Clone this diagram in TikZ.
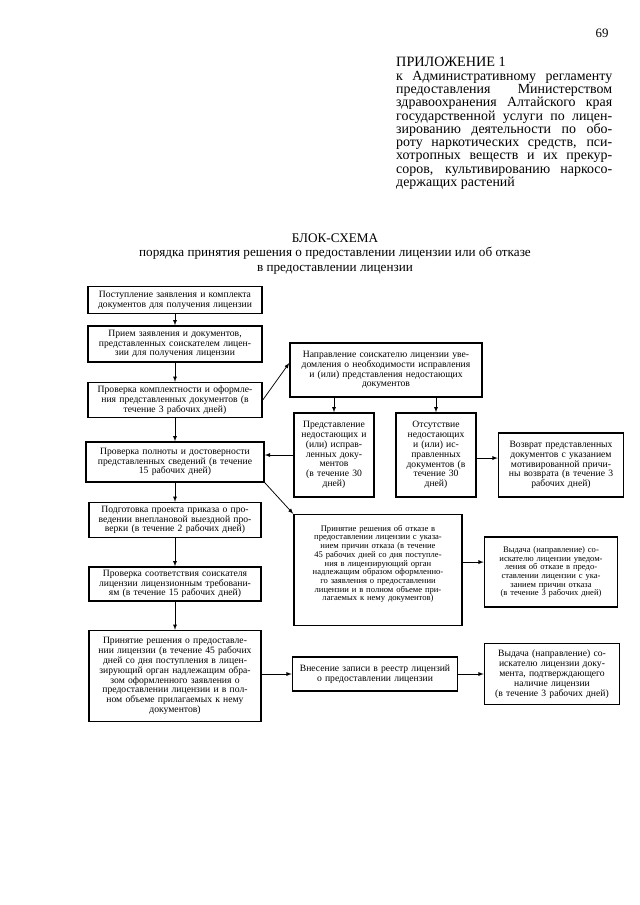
\documentclass[tikz,border=0pt]{standalone}
\usepackage{fontspec}
\setmainfont{Liberation Serif}
\usetikzlibrary{arrows,calc}
\newlength{\px}
\setlength{\px}{0.328mm}
\newcommand{\jline}[1]{\makebox[216\px][s]{#1}\\}
\tikzstyle{bx}=[draw=black,line width=1.3pt,align=center,inner xsep=1pt,inner ysep=1pt,
  font=\fontsize{9}{9.2}\selectfont]
\tikzstyle{sm}=[font=\fontsize{8}{8.1}\selectfont]
\tikzstyle{ar}=[-latex,line width=0.7pt]

\begin{document}
\begin{tikzpicture}[x=0.328mm,y=-0.328mm]
    \useasboundingbox (0,0) rectangle (640,905);
    % header
    \node [font=\fontsize{12}{12}\selectfont] (pg) at (602,33) {69};
    \node [anchor=west,inner sep=0,font=\fontsize{13.3}{13.3}\selectfont] (app) at (396,62)
      {ПРИЛОЖЕНИЕ 1};
    \node [anchor=north west,inner sep=0,text width=216\px,align=justify,
      font=\fontsize{13}{12.35}\selectfont] (reg) at (396,71) {%
      \jline{к Административному регламенту}%
      \jline{предоставления Министерством}%
      \jline{здравоохранения Алтайского края}%
      \jline{государственной услуги по лицен-}%
      \jline{зированию деятельности по обо-}%
      \jline{роту наркотических средств, пси-}%
      \jline{хотропных веществ и их прекур-}%
      \jline{соров, культивированию наркосо-}%
      держащих растений};
    \node [align=center,font=\fontsize{12.3}{13.5}\selectfont] (ttl) at (335,254)
      {БЛОК-СХЕМА\\порядка принятия решения о предоставлении лицензии или об отказе\\в предоставлении лицензии};
    % main column
    \node [style=bx,text width=172\px,minimum height=27\px] (1) at (175,300)
      {Поступление заявления и комплекта\\документов для получения лицензии};
    \node [style=bx,text width=172\px,minimum height=36\px] (2) at (175,344)
      {Прием заявления и документов,\\представленных соискателем лицен-\\зии для получения лицензии};
    \node [style=bx,text width=172\px,minimum height=35\px] (3) at (175,400)
      {Проверка комплектности и оформле-\\ния представленных документов (в\\течение 3 рабочих дней)};
    \node [style=bx,text width=176\px,minimum height=40\px] (4) at (175,462)
      {Проверка полноты и достоверности\\представленных сведений (в течение\\15 рабочих дней)};
    \node [style=bx,text width=170\px,minimum height=35\px] (5) at (175,520)
      {Подготовка проекта приказа о про-\\ведении внеплановой выездной про-\\верки (в течение 2 рабочих дней)};
    \node [style=bx,text width=170\px,minimum height=34\px] (6) at (175,584)
      {Проверка соответствия соискателя\\лицензии лицензионным требовани-\\ям (в течение 15 рабочих дней)};
    \node [style=bx,text width=170\px,minimum height=91\px] (7) at (175,676)
      {Принятие решения о предоставле-\\нии лицензии (в течение 45 рабочих\\дней со дня поступления в лицен-\\зирующий орган надлежащим обра-\\зом оформленного заявления о\\предоставлении лицензии и в пол-\\ном объеме прилагаемых к нему\\документов)};
    % right part
    \node [style=bx,text width=190\px,minimum height=54\px] (8) at (386,370)
      {Направление соискателю лицензии уве-\\домления о необходимости исправления\\и (или) представления недостающих\\документов};
    \node [style=bx,text width=78\px,minimum height=84\px] (9) at (334,455)
      {Представление\\недостающих и\\(или) исправ-\\ленных доку-\\ментов\\(в течение 30\\дней)};
    \node [style=bx,text width=78\px,minimum height=84\px] (10) at (436,455)
      {Отсутствие\\недостающих\\и (или) ис-\\правленных\\документов (в\\течение 30\\дней)};
    \node [style=bx,text width=123\px,minimum height=64\px] (11) at (561,465)
      {Возврат представленных\\документов с указанием\\мотивированной причи-\\ны возврата (в течение 3\\рабочих дней)};
    \node [style=bx,sm,text width=166\px,minimum height=111\px,text depth=78pt] (12) at (378,570)
      {Принятие решения об отказе в\\предоставлении лицензии с указа-\\нием причин отказа (в течение\\45 рабочих дней со дня поступле-\\ния в лицензирующий орган\\надлежащим образом оформленно-\\го заявления о предоставлении\\лицензии и в полном объеме при-\\лагаемых к нему документов)};
    \node [style=bx,sm,text width=131\px,minimum height=70\px] (13) at (551,572)
      {Выдача (направление) со-\\искателю лицензии уведом-\\ления об отказе в предо-\\ставлении лицензии с ука-\\занием причин отказа\\(в течение 3 рабочих дней)};
    \node [style=bx,text width=163\px,minimum height=34\px] (14) at (375,674)
      {Внесение записи в реестр лицензий\\о предоставлении лицензии};
    \node [style=bx,text width=133\px,minimum height=61\px] (15) at (552,674)
      {Выдача (направление) со-\\искателю лицензии доку-\\мента, подтверждающего\\наличие лицензии\\(в течение 3 рабочих дней)};
    % arrows
    \draw [style=ar] (1) to (2);
    \draw [style=ar] (2) to (3);
    \draw [style=ar] (3) to (4);
    \draw [style=ar] (4) to (5);
    \draw [style=ar] (5) to (6);
    \draw [style=ar] (6) to (7);
    \draw [style=ar] (3.east) to ([yshift=2.3mm]8.west);
    \draw [style=ar] (9.north |- 8.south) to (9.north);
    \draw [style=ar] (10.north |- 8.south) to (10.north);
    \draw [style=ar] (9.west) to (9.west -| 4.east);
    \draw [style=ar] ([yshift=-1mm]10.east) to ([yshift=-1mm]10.east -| 11.west);
    \draw [style=ar] (4.south east) to (12.north west);
    \draw [style=ar] ([yshift=2.6mm]12.east) to ([yshift=2.6mm]12.east -| 13.west);
    \draw [style=ar] (14.west -| 7.east) to (14.west);
    \draw [style=ar] (14.east) to (14.east -| 15.west);
\end{tikzpicture}
\end{document}
